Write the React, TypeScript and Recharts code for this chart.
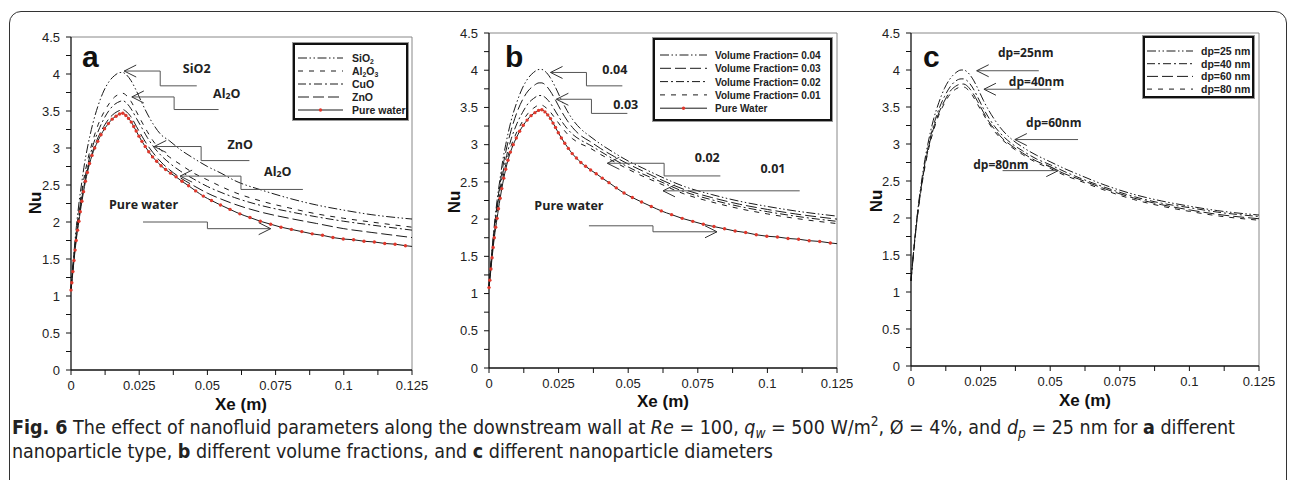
import type { ReactNode } from "react";
import { LineChart, Line, XAxis, YAxis, ReferenceLine, ReferenceDot } from "recharts";

// Axis ticks (minor ticks get an empty label)
const xTicks = [0, 0.0125, 0.025, 0.0375, 0.05, 0.0625, 0.075, 0.0875, 0.1, 0.1125, 0.125];
const xTickLabels = ["0", "", "0.025", "", "0.05", "", "0.075", "", "0.1", "", "0.125"];
const yTicks = [0, 0.25, 0.5, 0.75, 1, 1.25, 1.5, 1.75, 2, 2.25, 2.5, 2.75, 3, 3.25, 3.5, 3.75, 4, 4.25, 4.5];
const yTickLabels = ["0", "", "0.5", "", "1", "", "1.5", "", "2", "", "2.5", "", "3", "", "3.5", "", "4", "", "4.5"];

// Xe (m) sample positions shared by the nanofluid curves
const xGrid = [
  0, 0.001, 0.002, 0.003, 0.004, 0.005, 0.006, 0.008, 0.01, 0.012, 0.014, 0.016, 0.018,
  0.019, 0.02, 0.022, 0.024, 0.026, 0.028, 0.03, 0.033, 0.036, 0.04, 0.045, 0.05, 0.055,
  0.06, 0.07, 0.08, 0.09, 0.1, 0.11, 0.125,
];

// panel a: nanoparticle type
const nuSiO2 = [1.1, 1.55, 1.95, 2.28, 2.55, 2.8, 3.0, 3.33, 3.58, 3.77, 3.9, 3.98, 4.02, 4.02, 4.0, 3.91, 3.77, 3.61, 3.46, 3.33, 3.18, 3.1, 2.98, 2.86, 2.75, 2.66, 2.56, 2.43, 2.32, 2.23, 2.16, 2.1, 2.04];
const nuAl2O3 = [1.09, 1.52, 1.88, 2.18, 2.43, 2.64, 2.82, 3.1, 3.32, 3.48, 3.6, 3.69, 3.73, 3.74, 3.72, 3.63, 3.49, 3.35, 3.22, 3.1, 2.97, 2.88, 2.78, 2.66, 2.57, 2.48, 2.4, 2.28, 2.19, 2.11, 2.05, 2.0, 1.93];
const nuCuO = [1.09, 1.5, 1.85, 2.13, 2.38, 2.58, 2.75, 3.03, 3.23, 3.39, 3.51, 3.59, 3.63, 3.64, 3.62, 3.53, 3.4, 3.27, 3.14, 3.03, 2.9, 2.8, 2.69, 2.58, 2.48, 2.4, 2.33, 2.22, 2.14, 2.07, 2.01, 1.96, 1.89];
const nuZnO = [1.08, 1.47, 1.81, 2.08, 2.33, 2.53, 2.7, 2.96, 3.15, 3.29, 3.4, 3.47, 3.51, 3.52, 3.5, 3.42, 3.29, 3.16, 3.04, 2.94, 2.81, 2.71, 2.6, 2.49, 2.39, 2.31, 2.24, 2.13, 2.05, 1.98, 1.91, 1.86, 1.79];

// panel b: volume fraction
const nuVf04 = [1.1, 1.55, 1.95, 2.28, 2.55, 2.8, 3.0, 3.33, 3.57, 3.76, 3.89, 3.97, 4.01, 4.01, 3.99, 3.9, 3.76, 3.6, 3.46, 3.34, 3.21, 3.12, 3.01, 2.89, 2.78, 2.69, 2.6, 2.44, 2.33, 2.24, 2.17, 2.11, 2.04];
const nuVf03 = [1.09, 1.53, 1.91, 2.22, 2.48, 2.71, 2.9, 3.2, 3.43, 3.6, 3.72, 3.79, 3.83, 3.83, 3.81, 3.72, 3.59, 3.45, 3.33, 3.23, 3.12, 3.05, 2.95, 2.84, 2.74, 2.65, 2.56, 2.4, 2.29, 2.2, 2.13, 2.07, 2.0];
const nuVf02 = [1.09, 1.51, 1.87, 2.16, 2.41, 2.62, 2.8, 3.08, 3.28, 3.43, 3.55, 3.62, 3.66, 3.66, 3.64, 3.56, 3.44, 3.32, 3.22, 3.14, 3.06, 3.0, 2.91, 2.8, 2.7, 2.61, 2.53, 2.37, 2.26, 2.17, 2.1, 2.04, 1.97];
const nuVf01 = [1.08, 1.48, 1.83, 2.11, 2.35, 2.56, 2.73, 2.99, 3.17, 3.31, 3.42, 3.49, 3.53, 3.53, 3.51, 3.44, 3.34, 3.24, 3.15, 3.08, 3.01, 2.96, 2.87, 2.77, 2.67, 2.58, 2.5, 2.34, 2.23, 2.14, 2.07, 2.01, 1.94];

// panel c: particle diameter
const nuDp25 = [1.15, 1.58, 1.96, 2.28, 2.55, 2.79, 2.99, 3.32, 3.56, 3.75, 3.88, 3.96, 4.0, 4.0, 3.98, 3.89, 3.75, 3.59, 3.45, 3.33, 3.18, 3.07, 2.96, 2.85, 2.76, 2.67, 2.59, 2.44, 2.32, 2.23, 2.16, 2.1, 2.04];
const nuDp40 = [1.15, 1.57, 1.94, 2.25, 2.51, 2.74, 2.93, 3.24, 3.47, 3.64, 3.77, 3.85, 3.88, 3.88, 3.86, 3.77, 3.63, 3.48, 3.35, 3.24, 3.11, 3.01, 2.91, 2.8, 2.72, 2.63, 2.55, 2.41, 2.29, 2.2, 2.14, 2.08, 2.02];
const nuDp60 = [1.15, 1.56, 1.93, 2.23, 2.49, 2.71, 2.9, 3.2, 3.42, 3.58, 3.71, 3.78, 3.81, 3.81, 3.79, 3.7, 3.57, 3.43, 3.3, 3.2, 3.07, 2.98, 2.88, 2.77, 2.69, 2.6, 2.53, 2.39, 2.27, 2.18, 2.11, 2.05, 1.99];
const nuDp80 = [1.15, 1.55, 1.92, 2.22, 2.47, 2.69, 2.88, 3.17, 3.39, 3.55, 3.67, 3.74, 3.77, 3.77, 3.75, 3.66, 3.53, 3.4, 3.28, 3.17, 3.05, 2.96, 2.86, 2.75, 2.67, 2.58, 2.51, 2.37, 2.25, 2.16, 2.09, 2.03, 1.97];

// pure water (denser, one red symbol per point)
const waterX = [
  0, 0.0003, 0.0007, 0.0011, 0.0015, 0.0019, 0.0024, 0.0029, 0.0034, 0.004,
  0.0046, 0.0053, 0.006, 0.0068, 0.0077, 0.0087, 0.0098, 0.011, 0.0123, 0.0137,
  0.0151, 0.0165, 0.0178, 0.019, 0.0201, 0.0211, 0.0221, 0.023, 0.0239, 0.0249,
  0.026, 0.0272, 0.0285, 0.0299, 0.0314, 0.033, 0.0347, 0.0365, 0.0385, 0.0407,
  0.0431, 0.0457, 0.0485, 0.0515, 0.0548, 0.0583, 0.0619, 0.0656, 0.0694, 0.0732,
  0.077, 0.0808, 0.0846, 0.0884, 0.0922, 0.096, 0.0998, 0.1036, 0.1074, 0.1112,
  0.115, 0.1188, 0.1226, 0.125,
];
const waterNu = [
  1.08, 1.18, 1.33, 1.48, 1.62, 1.75, 1.89, 2.01, 2.14, 2.28,
  2.41, 2.55, 2.67, 2.79, 2.9, 3.0, 3.09, 3.18, 3.26, 3.33,
  3.39, 3.43, 3.46, 3.47, 3.44, 3.4, 3.35, 3.29, 3.23, 3.16,
  3.09, 3.02, 2.95, 2.88, 2.82, 2.76, 2.71, 2.66, 2.61, 2.55,
  2.49, 2.42, 2.35, 2.29, 2.23, 2.17, 2.11, 2.06, 2.01, 1.97,
  1.93, 1.9, 1.87, 1.84, 1.82, 1.79, 1.77, 1.76, 1.74, 1.73,
  1.71, 1.7, 1.68, 1.67,
];

// line patterns
const DDOT = "9 2.5 1.5 2.5 1.5 2.5";
const DOT = "8 3 2 3";
const LONG = "11 4";
const SHORT = "5 6";

type Series = { key: string; name: string; ys: number[]; dash: string };
type Note = { text: string; tx: number; ty: number; path: number[][]; head: "left" | "right" };
type LegendLayout = { left: number; top: number; width: number; height: number; row0: number; step: number; lx1: number; lx2: number; tx: number; fs: number };

const seriesA: Series[] = [
  { key: "sio2", name: "SiO_2", ys: nuSiO2, dash: DDOT },
  { key: "al2o3", name: "Al_2O_3", ys: nuAl2O3, dash: SHORT },
  { key: "cuo", name: "CuO", ys: nuCuO, dash: DOT },
  { key: "zno", name: "ZnO", ys: nuZnO, dash: LONG },
];
const seriesB: Series[] = [
  { key: "v04", name: "Volume Fraction= 0.04", ys: nuVf04, dash: DDOT },
  { key: "v03", name: "Volume Fraction= 0.03", ys: nuVf03, dash: LONG },
  { key: "v02", name: "Volume Fraction= 0.02", ys: nuVf02, dash: DOT },
  { key: "v01", name: "Volume Fraction= 0.01", ys: nuVf01, dash: SHORT },
];
const seriesC: Series[] = [
  { key: "d25", name: "dp=25 nm", ys: nuDp25, dash: DDOT },
  { key: "d40", name: "dp=40 nm", ys: nuDp40, dash: DOT },
  { key: "d60", name: "dp=60 nm", ys: nuDp60, dash: LONG },
  { key: "d80", name: "dp=80 nm", ys: nuDp80, dash: SHORT },
];

// arrow call-outs, in data coordinates
const notesA: Note[] = [
  { text: "SiO2", tx: 0.0461, ty: 4.08, path: [[0.0195, 4.04], [0.0327, 4.04], [0.0327, 3.84], [0.0461, 3.84]], head: "left" },
  { text: "Al_2O", tx: 0.0571, ty: 3.75, path: [[0.0223, 3.69], [0.0378, 3.69], [0.0378, 3.52], [0.0541, 3.52]], head: "left" },
  { text: "ZnO", tx: 0.062, ty: 3.06, path: [[0.0305, 3.02], [0.0477, 3.02], [0.0477, 2.83], [0.0654, 2.83]], head: "left" },
  { text: "Al_2O", tx: 0.0758, ty: 2.69, path: [[0.04, 2.62], [0.0623, 2.62], [0.0623, 2.44], [0.085, 2.44]], head: "left" },
  { text: "Pure water", tx: 0.0266, ty: 2.24, path: [[0.0264, 2.0], [0.05, 2.0], [0.05, 1.91], [0.0732, 1.91]], head: "right" },
];
const notesB: Note[] = [
  { text: "0.04", tx: 0.0452, ty: 4.01, path: [[0.0221, 3.97], [0.035, 3.97], [0.035, 3.79], [0.0479, 3.79]], head: "left" },
  { text: "0.03", tx: 0.0491, ty: 3.54, path: [[0.0242, 3.61], [0.0368, 3.61], [0.0368, 3.42], [0.0497, 3.42]], head: "left" },
  { text: "0.02", tx: 0.0784, ty: 2.83, path: [[0.0425, 2.75], [0.0629, 2.75], [0.0629, 2.58], [0.0831, 2.58]], head: "left" },
  { text: "0.01", tx: 0.102, ty: 2.69, path: [[0.0625, 2.38], [0.1116, 2.38]], head: "left" },
  { text: "Pure water", tx: 0.0287, ty: 2.19, path: [[0.0359, 1.91], [0.0589, 1.91], [0.0589, 1.83], [0.0819, 1.83]], head: "right" },
];
const notesC: Note[] = [
  { text: "dp=25nm", tx: 0.0412, ty: 4.24, path: [[0.0236, 3.99], [0.0459, 3.99]], head: "left" },
  { text: "dp=40nm", tx: 0.0451, ty: 3.85, path: [[0.0262, 3.74], [0.0503, 3.74]], head: "left" },
  { text: "dp=60nm", tx: 0.0513, ty: 3.3, path: [[0.0373, 3.06], [0.06, 3.06]], head: "left" },
  { text: "dp=80nm", tx: 0.0323, ty: 2.73, path: [[0.0329, 2.64], [0.0529, 2.64]], head: "right" },
];

const ARIAL = "'Liberation Sans', Arial, sans-serif";
const OPEN = "'Open Sans', 'Noto Sans', sans-serif";
const INK = "#1a1a1a";
const RED = "#e0382c";

// "Al_2O_3" -> Al, subscript 2, O, subscript 3
function withSubs(label: string, subSize: number): ReactNode[] {
  const parts = label.split(/_(\d)/);
  const out: ReactNode[] = [];
  let shifted = false;
  parts.forEach((p, i) => {
    if (p === "") return;
    if (i % 2 === 1) {
      out.push(<tspan key={i} dy={shifted ? 0 : 3} fontSize={subSize}>{p}</tspan>);
      shifted = true;
    } else {
      out.push(<tspan key={i} dy={shifted ? -3 : 0}>{p}</tspan>);
      shifted = false;
    }
  });
  return out;
}

function LegendBox({ lay, series, waterName }: { lay: LegendLayout; series: Series[]; waterName?: string }) {
  const rows = waterName ? [...series.map((s) => ({ name: s.name, dash: s.dash, water: false })), { name: waterName, dash: "", water: true }] : series.map((s) => ({ name: s.name, dash: s.dash, water: false }));
  return (
    <svg width={lay.width} height={lay.height} style={{ position: "absolute", left: lay.left, top: lay.top }}>
      <rect x={0.5} y={0.5} width={lay.width - 1} height={lay.height - 1} fill="#fff" stroke="#999" strokeWidth={1} />
      <rect x={2} y={2} width={lay.width - 4} height={lay.height - 4} fill="none" stroke="#111" strokeWidth={2} />
      {rows.map((r, i) => {
        const y = lay.row0 + i * lay.step;
        return (
          <g key={i}>
            <line x1={lay.lx1} x2={lay.lx2} y1={y} y2={y} stroke={INK} strokeWidth={1} strokeDasharray={r.dash || undefined} />
            {r.water && <circle cx={(lay.lx1 + lay.lx2) / 2} cy={y} r={1.7} fill={RED} />}
            <text x={lay.tx} y={y} dominantBaseline="central" fontFamily={ARIAL} fontWeight={700} fontSize={lay.fs} fill="#222">
              {withSubs(r.name, lay.fs * 0.65)}
            </text>
          </g>
        );
      })}
    </svg>
  );
}

type PanelProps = {
  plotLeft: number;
  plotTop: number;
  plotW: number;
  plotH: number;
  series: Series[];
  water: boolean;
  notes: Note[];
  noteSize: number;
};

function Panel({ plotLeft, plotTop, plotW, plotH, series, water, notes, noteSize }: PanelProps) {
  const waterData = waterX.map((x, i) => ({ x, y: waterNu[i] }));
  const lastIdx = waterX.length - 1;
  return (
    <div style={{ position: "absolute", left: plotLeft - 60, top: plotTop - 10 }}>
      <LineChart width={plotW + 80} height={plotH + 60} margin={{ top: 10, right: 20, left: 0, bottom: 0 }}>
        <XAxis
          type="number"
          dataKey="x"
          domain={[0, 0.125]}
          ticks={xTicks}
          interval={0}
          height={50}
          tickSize={5}
          tickMargin={6}
          tickFormatter={(_v: number, i: number) => xTickLabels[i]}
          tick={{ fontSize: 13, fill: "#222", fontFamily: ARIAL }}
          axisLine={{ stroke: "#111", strokeWidth: 1.3 }}
          tickLine={{ stroke: "#111" }}
        />
        <YAxis
          type="number"
          domain={[0, 4.5]}
          ticks={yTicks}
          interval={0}
          width={60}
          tickSize={5}
          tickMargin={6}
          tickFormatter={(_v: number, i: number) => yTickLabels[i]}
          tick={{ fontSize: 13, fill: "#222", fontFamily: ARIAL }}
          axisLine={{ stroke: "#111", strokeWidth: 1.3 }}
          tickLine={{ stroke: "#111" }}
        />
        <ReferenceLine y={4.5} stroke="#888" strokeWidth={1} ifOverflow="visible" />
        <ReferenceLine x={0.125} stroke="#888" strokeWidth={1} ifOverflow="visible" />
        {series.map((s) => (
          <Line
            key={s.key}
            data={xGrid.map((x, i) => ({ x, y: s.ys[i] }))}
            dataKey="y"
            type="monotone"
            stroke={INK}
            strokeWidth={1}
            strokeDasharray={s.dash}
            dot={false}
            activeDot={false}
            isAnimationActive={false}
          />
        ))}
        {water && (
          <Line
            data={waterData}
            dataKey="y"
            type="monotone"
            stroke={INK}
            strokeWidth={1}
            activeDot={false}
            isAnimationActive={false}
            dot={(p: any) =>
              p.index === lastIdx ? <g key={`w${p.index}`} /> : <circle key={`w${p.index}`} cx={p.cx} cy={p.cy} r={1.7} fill={RED} stroke="none" />
            }
          />
        )}
        {notes.map((n, ni) =>
          n.path.slice(1).map((pt, k) => (
            <ReferenceLine
              key={`s${ni}-${k}`}
              segment={[{ x: n.path[k][0], y: n.path[k][1] }, { x: pt[0], y: pt[1] }]}
              stroke="#555"
              strokeWidth={1}
              ifOverflow="visible"
            />
          ))
        )}
        {notes.map((n, ni) => {
          const tip = n.head === "left" ? n.path[0] : n.path[n.path.length - 1];
          const d = n.head === "left" ? 12 : -12;
          return (
            <ReferenceDot
              key={`h${ni}`}
              x={tip[0]}
              y={tip[1]}
              r={0}
              ifOverflow="visible"
              shape={(p: any) => (
                <path d={`M${p.cx + d},${p.cy - 6} L${p.cx},${p.cy} L${p.cx + d},${p.cy + 6}`} fill="none" stroke="#333" strokeWidth={1} />
              )}
            />
          );
        })}
        {notes.map((n, ni) => (
          <ReferenceDot
            key={`t${ni}`}
            x={n.tx}
            y={n.ty}
            r={0}
            ifOverflow="visible"
            shape={(p: any) => (
              <text x={p.cx} y={p.cy} textAnchor="middle" dominantBaseline="central" fontFamily={OPEN} fontWeight={700} fontSize={noteSize} fill="#222">
                {withSubs(n.text, noteSize * 0.7)}
              </text>
            )}
          />
        ))}
      </LineChart>
    </div>
  );
}

export default function App() {
  return (
    <div style={{ position: "absolute", left: 0, top: 0, width: 1290, height: 480, background: "#fff", overflow: "hidden" }}>
      <div style={{ position: "absolute", left: 9, top: 11, width: 1276, height: 500, border: "1.5px solid #333", borderRadius: 12 }} />

      <Panel plotLeft={71} plotTop={37} plotW={341} plotH={333} series={seriesA} water notes={notesA} noteSize={12.5} />
      <Panel plotLeft={489} plotTop={33} plotW={348} plotH={335} series={seriesB} water notes={notesB} noteSize={12.5} />
      <Panel plotLeft={911} plotTop={33} plotW={348} plotH={333} series={seriesC} water={false} notes={notesC} noteSize={12} />

      <LegendBox lay={{ left: 292, top: 42, width: 117, height: 79, row0: 16, step: 13, lx1: 6, lx2: 51, tx: 60, fs: 10.5 }} series={seriesA} waterName="Pure water" />
      <LegendBox lay={{ left: 652, top: 37, width: 181, height: 85, row0: 18, step: 13.3, lx1: 8, lx2: 55, tx: 63, fs: 10 }} series={seriesB} waterName="Pure Water" />
      <LegendBox lay={{ left: 1142, top: 35, width: 113, height: 64, row0: 16, step: 12.7, lx1: 5, lx2: 51, tx: 59, fs: 10.5 }} series={seriesC} />

      <svg width={1290} height={480} style={{ position: "absolute", left: 0, top: 0, pointerEvents: "none" }}>
        <g fontFamily={ARIAL} fontWeight={700} fill="#111">
          <text x={82} y={67} fontSize={30}>a</text>
          <text x={505} y={67} fontSize={30}>b</text>
          <text x={923} y={67} fontSize={30}>c</text>
          <text x={241} y={410} fontSize={17} textAnchor="middle">Xe (m)</text>
          <text x={663} y={407} fontSize={17} textAnchor="middle">Xe (m)</text>
          <text x={1085} y={406} fontSize={17} textAnchor="middle">Xe (m)</text>
          <text transform="translate(41,203) rotate(-90)" fontSize={17} textAnchor="middle">Nu</text>
          <text transform="translate(460,202) rotate(-90)" fontSize={17} textAnchor="middle">Nu</text>
          <text transform="translate(882,201) rotate(-90)" fontSize={17} textAnchor="middle">Nu</text>
        </g>
      </svg>

      <div
        style={{
          position: "absolute",
          left: 12,
          top: 416,
          fontFamily: "'Liberation Sans Narrow', 'DejaVu Sans Condensed', sans-serif",
          fontSize: 19.5,
          lineHeight: "24px",
          color: "#222",
          whiteSpace: "nowrap",
        }}
      >
        <b>Fig. 6</b> The effect of nanofluid parameters along the downstream wall at <i>Re</i> = 100,{" "}
        <i>q</i>
        <span style={{ fontSize: "0.7em", verticalAlign: "-0.3em", lineHeight: 0 }}>
          <i>w</i>
        </span>{" "}
        = 500 W/m<span style={{ fontSize: "0.7em", verticalAlign: "0.6em", lineHeight: 0 }}>2</span>, Ø = 4%, and <i>d</i>
        <span style={{ fontSize: "0.7em", verticalAlign: "-0.3em", lineHeight: 0 }}>
          <i>p</i>
        </span>{" "}
        = 25 nm for <b>a</b> different
        <br />
        nanoparticle type, <b>b</b> different volume fractions, and <b>c</b> different nanoparticle diameters
      </div>
    </div>
  );
}
